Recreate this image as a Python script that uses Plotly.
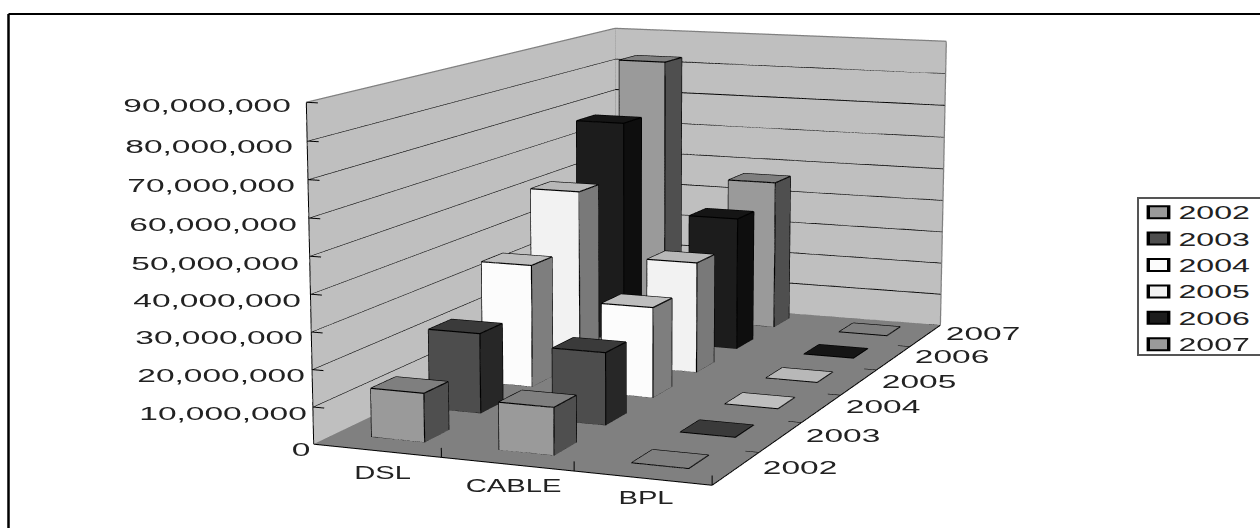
import plotly.graph_objects as go

categories = ["DSL", "CABLE", "BPL"]
years = ["2002", "2003", "2004", "2005", "2006", "2007"]
dsl = [13.2e6, 22.3e6, 35.2e6, 51.2e6, 67.2e6, 82.3e6]
cable = [12.7e6, 20e6, 25.8e6, 32.5e6, 40e6, 46e6]
bpl = [100000, 100000, 100000, 100000, 100000, 100000]
z_ticks = [0, 10e6, 20e6, 30e6, 40e6, 50e6, 60e6, 70e6, 80e6, 90e6]

W, H = 1260, 528
eye = dict(x=1.34477, y=-3.45568, z=0.63054)
center = dict(x=0.07348, y=-0.28234, z=0)
up = dict(x=-0.0003, y=0.02386, z=1)
aspect = dict(x=0.52987, y=1, z=0.42959)
fovy = 0.1911

front = ["#9A9A9A", "#4D4D4D", "#FCFCFC", "#F2F2F2", "#1C1C1C", "#9A9A9A"]
side = ["#4F4F4F", "#272727", "#7E7E7E", "#797979", "#0E0E0E", "#4F4F4F"]
top = ["#7F7F7F", "#3A3A3A", "#BEBEBE", "#B8B8B8", "#151515", "#7F7F7F"]
flat = dict(ambient=1, diffuse=0, specular=0, fresnel=0, roughness=1)

fig = go.Figure()
def quad(xs, ys, zs, color, name):
    fig.add_trace(go.Mesh3d(x=xs, y=ys, z=zs, i=[0,0], j=[1,2], k=[2,3], color=color, flatshading=True,
        lighting=flat, hoverinfo="skip", showlegend=False, name=name))
zm = z_ticks[-1]
quad([0,0,0,0],[0,6,6,0],[0,0,zm,zm],"#BFBFBF","left wall")
quad([0,3,3,0],[6,6,6,6],[0,0,zm,zm],"#BFBFBF","back wall")
quad([0,3,3,0],[0,0,6,6],[0,0,0,0],"#808080","floor")

def lines(seg, color, width, name):
    xs, ys, zs = [], [], []
    for a, b in seg:
        xs += [a[0], b[0], None]; ys += [a[1], b[1], None]; zs += [a[2], b[2], None]
    fig.add_trace(go.Scatter3d(x=xs, y=ys, z=zs, mode="lines", line=dict(color=color, width=width),
        hoverinfo="skip", showlegend=False, name=name))

grid = []
for z in z_ticks[1:-1]:
    grid += [((0,0,z),(0,6,z)), ((0,6,z),(3,6,z))]
lines(grid, "#000000", 2, "grid")
lines([((0,0,zm),(0,6,zm)),((0,6,zm),(3,6,zm)),((3,6,zm),(3,6,0)),((0,6,0),(0,6,zm)),((0,6,0),(3,6,0)),((0,0,0),(0,6,0))], "#808080", 2.5, "wall edges")
tk = [((0,0,0),(0,0,zm)),((0,0,0),(3,0,0)),((3,0,0),(3,6,0))]
for z in z_ticks:
    tk.append(((0,0,z),(0.09,0,z)))
for i in range(1,4):
    tk.append(((i,0,0),(i,0,2.5e6)))
for j in range(1,7):
    tk.append(((3,j,0),(2.9,j,0)))
lines(tk, "#000000", 2, "axis")

bw, bd = 0.42, 0.42
series = [dsl, cable, bpl]
for yi in range(6):
    vx, vy, vz, I, J, K, fc, seg = [], [], [], [], [], [], [], []
    for ci in range(3):
        h = series[ci][yi]
        x0, x1 = ci+.495-bw/2, ci+.495+bw/2
        y0, y1 = yi+.57-bd/2, yi+.57+bd/2
        n = len(vx)
        vx += [x0,x1,x1,x0,x0,x1,x1,x0]; vy += [y0,y0,y1,y1,y0,y0,y1,y1]; vz += [0,0,0,0,h,h,h,h]
        faces = [((0,1,5,4),front[yi]),((1,2,6,5),side[yi]),((4,5,6,7),top[yi]),((3,2,6,7),side[yi]),((0,3,7,4),side[yi])]
        for f, c in faces:
            I += [n+f[0], n+f[0]]; J += [n+f[1], n+f[2]]; K += [n+f[2], n+f[3]]; fc += [c, c]
        P = [(vx[n+i],vy[n+i],vz[n+i]) for i in range(8)]
        for a, b in [(0,1),(1,2),(4,5),(5,6),(6,7),(7,4),(0,4),(1,5),(2,6)]:
            seg.append((P[a],P[b]))
    fig.add_trace(go.Mesh3d(x=vx, y=vy, z=vz, i=I, j=J, k=K, facecolor=fc, flatshading=True, name=years[yi],
        lighting=flat, hoverinfo="skip", showlegend=False))
    lines(seg, "#000000", 2.4, years[yi]+" edges")
    fig.add_trace(go.Scatter3d(x=[None], y=[None], z=[None], mode="markers", name=years[yi], showlegend=True,
        marker=dict(symbol="square", size=11, color=front[yi], line=dict(color="#000000", width=1.5))))

ann = []
def label(text, cx, cy):
    ann.append(dict(text=text, x=cx/W, y=1-cy/H, xref="paper", yref="paper", xanchor="center", yanchor="middle",
        showarrow=False, font=dict(family="Liberation Sans", size=18, color="#222222")))
y_lab = [f"{int(v):,}" for v in z_ticks]
y_cy = [450, 414, 376, 338, 301, 264, 225, 186, 147, 106]
for i, t in enumerate(y_lab):
    r = 309 - 1.9*i
    wid = 17 if i == 0 else 169
    label(t, r-wid/2, y_cy[i])
for t, cx, cy in zip(categories, [382, 513, 646], [473, 486, 498]):
    label(t, cx, cy)
for t, cx, cy in zip(years, [800, 843, 883, 919, 952, 983], [468, 436, 407, 382, 357, 334]):
    label(t, cx, cy)

fig.update_layout(width=W, height=H, margin=dict(l=0, r=0, t=0, b=0), paper_bgcolor="white",
    scene=dict(domain=dict(x=[0,1], y=[0,1]), aspectmode="manual", aspectratio=aspect,
        camera=dict(eye=eye, center=center, up=up, projection=dict(type="perspective")),
        xaxis=dict(visible=False, range=[0,3]), yaxis=dict(visible=False, range=[0,6]), zaxis=dict(visible=False, range=[0,zm]),
        bgcolor="white"),
    annotations=ann,
    shapes=[dict(type="line", xref="paper", yref="paper", x0=8.5/W, x1=1, y0=1-14/H, y1=1-14/H, line=dict(color="#000", width=2)),
            dict(type="line", xref="paper", yref="paper", x0=8.5/W, x1=8.5/W, y0=0, y1=1-14/H, line=dict(color="#000", width=2.5))],
    legend=dict(x=1137/W, y=1-197/H, xanchor="left", yanchor="top", bgcolor="white", bordercolor="#555555", borderwidth=1.5,
        font=dict(family="Liberation Sans", size=18, color="#222222"), itemsizing="constant", tracegroupgap=0))

post = """
document.body.style.margin='0';
var gd=document.getElementById('{plot_id}');
var gp=gd._fullLayout.scene._scene.glplot; gp.fovy=%f; gp.redraw();
document.querySelectorAll('.annotation-text').forEach(function(t){ var k=/[A-Z]/.test(t.textContent)?1.62:1.86; t.setAttribute('lengthAdjust','spacingAndGlyphs'); t.setAttribute('textLength', t.getComputedTextLength()*k);});
document.querySelectorAll('.legendtext').forEach(function(t){t.setAttribute('lengthAdjust','spacingAndGlyphs'); t.setAttribute('textLength', t.getComputedTextLength()*1.78);});
document.querySelectorAll('.legendpoints path').forEach(function(t){t.setAttribute('transform',(t.getAttribute('transform')||'')+' scale(1.7,1)');});
document.querySelectorAll('.legend .scrollbox').forEach(function(t){t.removeAttribute('clip-path'); t.setAttribute('transform',(t.getAttribute('transform')||'')+' translate(0,-4.5)');});
document.querySelectorAll('.legend').forEach(function(t){t.removeAttribute('clip-path');});
document.querySelectorAll('.legend rect.bg').forEach(function(t){t.setAttribute('width','140'); t.setAttribute('height','157');});
""" % fovy
fig.write_html("out.html", post_script=post, config=dict(displayModeBar=False))
